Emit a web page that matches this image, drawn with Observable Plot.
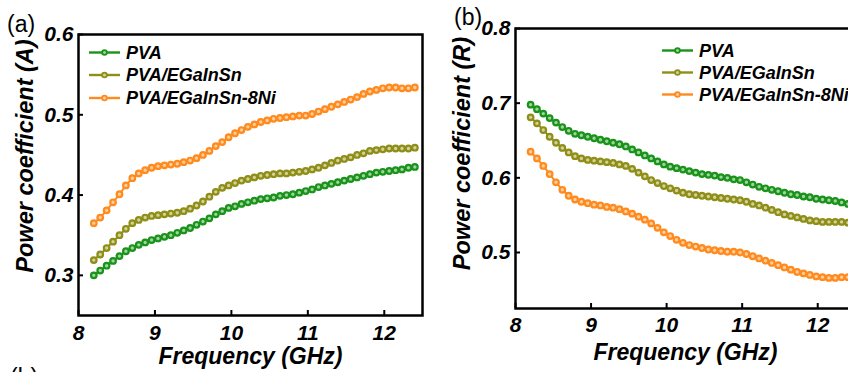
<!DOCTYPE html>
<html>
<head>
<meta charset="utf-8">
<script src="https://cdn.jsdelivr.net/npm/d3@7"></script>
<script src="https://cdn.jsdelivr.net/npm/@observablehq/plot@0.6"></script>
<style>
  html, body { margin: 0; padding: 0; background: #fff; }
  #wrap { position: relative; width: 848px; height: 372px; overflow: hidden; background: #fff; }
  #wrap svg { position: absolute; top: 0; overflow: visible; }
</style>
</head>
<body>
<div id="wrap"></div>
<script>
const freq = [8.200, 8.284, 8.368, 8.452, 8.536, 8.620, 8.704, 8.788, 8.872, 8.956,
  9.040, 9.124, 9.208, 9.292, 9.376, 9.460, 9.544, 9.628, 9.712, 9.796,
  9.880, 9.964, 10.048, 10.132, 10.216, 10.300, 10.384, 10.468, 10.552, 10.636,
  10.720, 10.804, 10.888, 10.972, 11.056, 11.140, 11.224, 11.308, 11.392, 11.476,
  11.560, 11.644, 11.728, 11.812, 11.896, 11.980, 12.064, 12.148, 12.232, 12.316, 12.400];

const seriesNames = ["PVA", "PVA/EGaInSn", "PVA/EGaInSn-8Ni"];
const seriesColors = ["#1a931a", "#8e8e18", "#ff8a1e"];
const seriesFills = ["#9fd49f", "#d2d29a", "#ffcf9e"];

// Panel (a): Power coefficient (A)
const aPVA = [0.300, 0.306, 0.312, 0.318, 0.324, 0.330, 0.334, 0.338, 0.341, 0.344,
  0.346, 0.348, 0.350, 0.353, 0.356, 0.359, 0.363, 0.367, 0.371, 0.376,
  0.380, 0.384, 0.386, 0.389, 0.391, 0.393, 0.395, 0.396, 0.397, 0.399,
  0.400, 0.401, 0.403, 0.405, 0.407, 0.410, 0.412, 0.414, 0.416, 0.418,
  0.420, 0.422, 0.424, 0.426, 0.428, 0.429, 0.430, 0.431, 0.432, 0.434, 0.435];
const aEG = [0.319, 0.326, 0.334, 0.342, 0.350, 0.358, 0.365, 0.369, 0.372, 0.374,
  0.375, 0.376, 0.377, 0.378, 0.380, 0.383, 0.387, 0.392, 0.398, 0.404,
  0.409, 0.412, 0.415, 0.418, 0.420, 0.422, 0.424, 0.425, 0.426, 0.427,
  0.427, 0.428, 0.429, 0.430, 0.432, 0.434, 0.437, 0.440, 0.443, 0.445,
  0.447, 0.450, 0.452, 0.455, 0.456, 0.457, 0.458, 0.458, 0.458, 0.458, 0.459];
const aNi = [0.365, 0.372, 0.381, 0.391, 0.401, 0.412, 0.421, 0.427, 0.431, 0.434,
  0.436, 0.437, 0.438, 0.439, 0.441, 0.443, 0.446, 0.450, 0.455, 0.461,
  0.466, 0.472, 0.477, 0.481, 0.485, 0.488, 0.491, 0.493, 0.495, 0.496,
  0.497, 0.498, 0.499, 0.499, 0.501, 0.504, 0.507, 0.510, 0.513, 0.516,
  0.519, 0.522, 0.526, 0.529, 0.531, 0.533, 0.534, 0.534, 0.533, 0.533, 0.534];

// Panel (b): Power coefficient (R)
const rPVA = [0.698, 0.692, 0.686, 0.680, 0.674, 0.668, 0.663, 0.659, 0.657, 0.655,
  0.653, 0.651, 0.649, 0.647, 0.645, 0.642, 0.638, 0.634, 0.630, 0.626,
  0.622, 0.618, 0.615, 0.613, 0.611, 0.609, 0.607, 0.605, 0.604, 0.603,
  0.601, 0.600, 0.598, 0.597, 0.594, 0.591, 0.588, 0.586, 0.584, 0.582,
  0.580, 0.578, 0.577, 0.575, 0.574, 0.572, 0.571, 0.570, 0.569, 0.567, 0.565];
const rEG = [0.681, 0.673, 0.664, 0.655, 0.647, 0.640, 0.634, 0.629, 0.626, 0.624,
  0.623, 0.622, 0.621, 0.620, 0.618, 0.616, 0.612, 0.607, 0.602, 0.597,
  0.593, 0.589, 0.586, 0.583, 0.580, 0.578, 0.577, 0.576, 0.575, 0.574,
  0.573, 0.572, 0.571, 0.570, 0.568, 0.565, 0.563, 0.560, 0.557, 0.554,
  0.551, 0.549, 0.547, 0.545, 0.543, 0.542, 0.541, 0.541, 0.541, 0.541, 0.540];
const rNi = [0.635, 0.626, 0.616, 0.605, 0.594, 0.584, 0.576, 0.571, 0.568, 0.566,
  0.564, 0.563, 0.561, 0.560, 0.558, 0.555, 0.552, 0.548, 0.544, 0.539,
  0.533, 0.527, 0.522, 0.517, 0.513, 0.510, 0.508, 0.506, 0.504, 0.503,
  0.502, 0.501, 0.501, 0.500, 0.498, 0.495, 0.492, 0.489, 0.486, 0.483,
  0.480, 0.477, 0.474, 0.472, 0.470, 0.468, 0.467, 0.466, 0.466, 0.467, 0.467];

const xTicks = [8, 9, 10, 11, 12];
const yTicksA = [0.3, 0.4, 0.5, 0.6];
const yTicksB = [0.5, 0.6, 0.7, 0.8];

const FONT = "'Liberation Sans', Arial, sans-serif";

function makePanel(cfg) {
  const rows = [];
  cfg.series.forEach((vals, si) => {
    vals.forEach((v, i) => rows.push({f: freq[i], v, s: seriesNames[si], fl: seriesFills[si]}));
  });
  const pw = cfg.width - cfg.ml - cfg.mr;
  const ph = cfg.height - cfg.mt - cfg.mb;
  const txt = {fontWeight: "bold", fontStyle: "italic", fill: "black"};
  const svg = Plot.plot({
    width: cfg.width,
    height: cfg.height,
    marginLeft: cfg.ml, marginRight: cfg.mr, marginTop: cfg.mt, marginBottom: cfg.mb,
    style: {fontFamily: FONT, background: "transparent", overflow: "visible"},
    x: {domain: [8, 12.5], axis: null},
    y: {domain: cfg.yDomain, axis: null},
    color: {domain: seriesNames, range: seriesColors},
    marks: [
      Plot.line(rows, {x: "f", y: "v", z: "s", stroke: "s", strokeWidth: 2}),
      Plot.dot(rows, {x: "f", y: "v", stroke: "s", fill: d => d.fl, r: 2.8, strokeWidth: 2.2}),
      Plot.tickX(xTicks, {x: d => d, insetTop: ph - 5, stroke: "black", strokeWidth: 2}),
      Plot.tickY(cfg.yTicks, {y: d => d, insetRight: pw - 5, stroke: "black", strokeWidth: 2}),
      Plot.axisX(xTicks, {tickSize: 0, tickPadding: cfg.xPad, fontSize: 21, label: null, tickFormat: d => String(d), ...txt}),
      Plot.axisY(cfg.yTicks, {tickSize: 0, tickPadding: 5, fontSize: 21, label: null, tickFormat: d => d.toFixed(1), ...txt}),
      Plot.text(["Frequency (GHz)"], {frameAnchor: "bottom", lineAnchor: "middle", textAnchor: "middle", dy: cfg.xlDy, fontSize: 23, ...txt}),
      Plot.text([cfg.ylabel], {frameAnchor: "left", lineAnchor: "middle", textAnchor: "middle", dx: -53, dy: cfg.ylDy, rotate: -90, fontSize: 23.5, ...txt}),
      Plot.frame({stroke: "black", strokeWidth: 2.5})
    ]
  });
  svg.style.left = cfg.left + "px";
  const s = d3.select(svg);
  // legend
  const lg = s.append("g").style("font-family", FONT).attr("text-anchor", "start");
  seriesNames.forEach((name, i) => {
    const y = cfg.legY[i];
    lg.append("line").attr("x1", cfg.legX).attr("x2", cfg.legX + 31).attr("y1", y).attr("y2", y)
      .attr("stroke", seriesColors[i]).attr("stroke-width", 2.4);
    lg.append("circle").attr("cx", cfg.legX + 15.5).attr("cy", y).attr("r", 2.4)
      .attr("fill", seriesFills[i]).attr("stroke", seriesColors[i]).attr("stroke-width", 1.8);
    lg.append("text").attr("x", cfg.legX + 37).attr("y", y).attr("dy", "0.35em")
      .attr("text-anchor", "start")
      .style("font-family", FONT).style("font-size", "18px").style("font-weight", "bold").style("font-style", "italic")
      .attr("fill", "black").text(name);
  });
  // panel tag
  cfg.tags.forEach(t => {
    s.append("text").attr("x", t.x).attr("y", t.y).attr("text-anchor", "start")
      .style("font-family", FONT).style("font-size", "23px").style("font-weight", "normal").style("font-style", "normal")
      .attr("fill", "black").text(t.text);
  });
  return svg;
}

const wrap = document.getElementById("wrap");
wrap.appendChild(makePanel({
  left: 0, width: 430, height: 372, ml: 78, mr: 8, mt: 34, mb: 57,
  yDomain: [0.25, 0.6], yTicks: yTicksA,
  series: [aPVA, aEG, aNi],
  ylabel: "Power coefficient (A)", xPad: 10, xlDy: 41, ylDy: -19,
  legX: 89, legY: [52.5, 75, 98],
  tags: [{x: 7, y: 32, text: "(a)"}, {x: 10, y: 385, text: "(b)"}]
}));
wrap.appendChild(makePanel({
  left: 430, width: 430, height: 372, ml: 85, mr: 5, mt: 28, mb: 64,
  yDomain: [0.425, 0.8], yTicks: yTicksB,
  series: [rPVA, rEG, rNi],
  ylabel: "Power coefficient (R)", xPad: 9, xlDy: 44, ylDy: -15,
  legX: 232, legY: [50.5, 72.5, 94.5],
  tags: [{x: 24, y: 25, text: "(b)"}]
}));
</script>
</body>
</html>
